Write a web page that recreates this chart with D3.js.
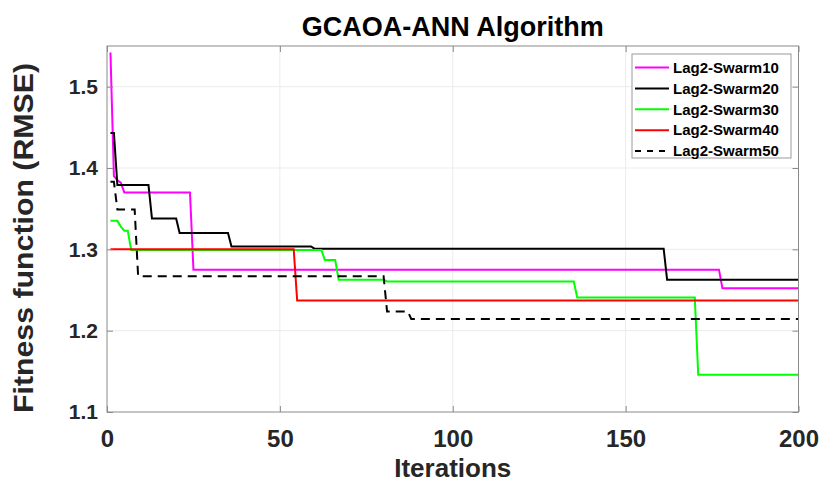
<!DOCTYPE html>
<html>
<head>
<meta charset="utf-8">
<script src="https://cdn.jsdelivr.net/npm/d3@7"></script>
<style>
  body { margin: 0; background: #fff; }
  text { font-family: "Liberation Sans", Arial, sans-serif; font-weight: bold; }
</style>
</head>
<body>
<div id="chart"></div>
<script>
// values: [iteration, fitness] at each change point
var iterTicks = [0, 50, 100, 150, 200];
var fitTicks = [1.1, 1.2, 1.3, 1.4, 1.5];
var seriesNames = ['Lag2-Swarm10', 'Lag2-Swarm20', 'Lag2-Swarm30', 'Lag2-Swarm40', 'Lag2-Swarm50'];
var seriesColors = ['#ff00ff', '#000000', '#00ff00', '#ff0000', '#000000'];

var swarm10 = [[1, 1.542], [2, 1.39], [3, 1.385], [4, 1.382], [5, 1.37], [24, 1.37], [25, 1.275],
               [177, 1.275], [178, 1.252], [200, 1.252]];
var swarm20 = [[1, 1.443], [2, 1.443], [3, 1.379], [12, 1.379], [13, 1.338], [20, 1.338], [21, 1.32],
               [35, 1.32], [36, 1.3036], [59, 1.3036], [60, 1.3008], [161, 1.3008], [162, 1.2626], [200, 1.2626]];
var swarm30 = [[1, 1.335], [3, 1.335], [4, 1.328], [5, 1.323], [6, 1.323], [7, 1.2993], [62, 1.2993],
               [63, 1.287], [66, 1.287], [67, 1.2626], [80, 1.2626], [81, 1.2605], [135, 1.2605],
               [136, 1.2409], [170, 1.2409], [171, 1.1458], [200, 1.1458]];
var swarm40 = [[1, 1.3], [54, 1.3], [55, 1.237], [200, 1.237]];
var swarm50 = [[1, 1.383], [2, 1.383], [3, 1.349], [8, 1.349], [9, 1.267], [80, 1.267], [81, 1.2236],
               [87, 1.2236], [88, 1.2143], [200, 1.2143]];

var allSeries = [swarm10, swarm20, swarm30, swarm40, swarm50];

var width = 820, height = 484;
var plot = { left: 107, right: 798.5, top: 46, bottom: 412 };

var svg = d3.select('#chart').append('svg').attr('width', width).attr('height', height);

var x = d3.scaleLinear().domain([0, 200]).range([plot.left, plot.right]);
var y = d3.scaleLinear().domain([1.1, 1.55]).range([plot.bottom, plot.top]);

// grid
svg.append('g').selectAll('line')
   .data(iterTicks.slice(1, -1))
   .enter().append('line')
   .attr('x1', function (d) { return x(d); }).attr('x2', function (d) { return x(d); })
   .attr('y1', plot.top).attr('y2', plot.bottom)
   .attr('stroke', '#ebebeb').attr('stroke-width', 1);
svg.append('g').selectAll('line')
   .data(fitTicks.slice(1))
   .enter().append('line')
   .attr('x1', plot.left).attr('x2', plot.right)
   .attr('y1', function (d) { return y(d); }).attr('y2', function (d) { return y(d); })
   .attr('stroke', '#ebebeb').attr('stroke-width', 1);

// series
var line = d3.line()
    .x(function (d) { return x(d[0]); })
    .y(function (d) { return y(d[1]); });

svg.append('g').selectAll('path')
   .data(allSeries)
   .enter().append('path')
   .attr('d', line)
   .attr('fill', 'none')
   .attr('stroke', function (d, i) { return seriesColors[i]; })
   .attr('stroke-width', 2)
   .attr('stroke-dasharray', function (d, i) { return i === 4 ? '9,6' : null; });

// axes with inward ticks on all four sides
function styleAxis(g, fontSize) {
    g.select('.domain').remove();
    g.selectAll('.tick line').attr('stroke', '#8a8a8a');
    g.selectAll('.tick text').attr('fill', '#262626').style('font-size', fontSize);
}

svg.append('g')
   .attr('transform', 'translate(0,' + plot.bottom + ')')
   .call(d3.axisBottom(x).tickValues(iterTicks).tickSizeInner(-6).tickSizeOuter(0).tickPadding(18))
   .call(styleAxis, '24px');
svg.append('g')
   .attr('transform', 'translate(0,' + plot.top + ')')
   .call(d3.axisTop(x).tickValues(iterTicks).tickSizeInner(-6).tickSizeOuter(0).tickFormat(''))
   .call(styleAxis, '0px');
svg.append('g')
   .attr('transform', 'translate(' + plot.left + ',0)')
   .call(d3.axisLeft(y).tickValues(fitTicks).tickSizeInner(-6).tickSizeOuter(0).tickPadding(9).tickFormat(d3.format('.1f')))
   .call(styleAxis, '21px');
svg.append('g')
   .attr('transform', 'translate(' + plot.right + ',0)')
   .call(d3.axisRight(y).tickValues(fitTicks).tickSizeInner(-6).tickSizeOuter(0).tickFormat(''))
   .call(styleAxis, '0px');

svg.append('rect')
   .attr('x', plot.left).attr('y', plot.top)
   .attr('width', plot.right - plot.left).attr('height', plot.bottom - plot.top)
   .attr('fill', 'none').attr('stroke', '#8a8a8a').attr('stroke-width', 1);

// titles
svg.append('text')
   .attr('x', (plot.left + plot.right) / 2).attr('y', 36)
   .attr('text-anchor', 'middle').style('font-size', '27px').attr('fill', '#000')
   .text('GCAOA-ANN Algorithm');

svg.append('text')
   .attr('x', (plot.left + plot.right) / 2).attr('y', 477)
   .attr('text-anchor', 'middle').style('font-size', '26px').attr('fill', '#262626')
   .text('Iterations');

svg.append('text')
   .attr('transform', 'translate(33,' + 238 + ') rotate(-90)')
   .attr('text-anchor', 'middle').style('font-size', '27px').attr('fill', '#262626')
   .attr('textLength', 350).attr('lengthAdjust', 'spacingAndGlyphs')
   .text('Fitness function (RMSE)');

// legend
var legend = svg.append('g');
legend.append('rect')
   .attr('x', 632).attr('y', 54).attr('width', 159).attr('height', 104)
   .attr('fill', '#fff').attr('stroke', '#9a9a9a').attr('stroke-width', 1);

var rows = legend.selectAll('g.row')
   .data(seriesNames)
   .enter().append('g')
   .attr('class', 'row')
   .attr('transform', function (d, i) { return 'translate(0,' + (67.5 + i * 20.9) + ')'; });

rows.append('line')
   .attr('x1', 635).attr('x2', 669).attr('y1', 0).attr('y2', 0)
   .attr('stroke', function (d, i) { return seriesColors[i]; })
   .attr('stroke-width', 2)
   .attr('stroke-dasharray', function (d, i) { return i === 4 ? '6,6' : null; });

rows.append('text')
   .attr('x', 673).attr('y', 0).attr('dy', '0.35em')
   .style('font-size', '15px').attr('fill', '#000')
   .text(function (d) { return d; });
</script>
</body>
</html>
